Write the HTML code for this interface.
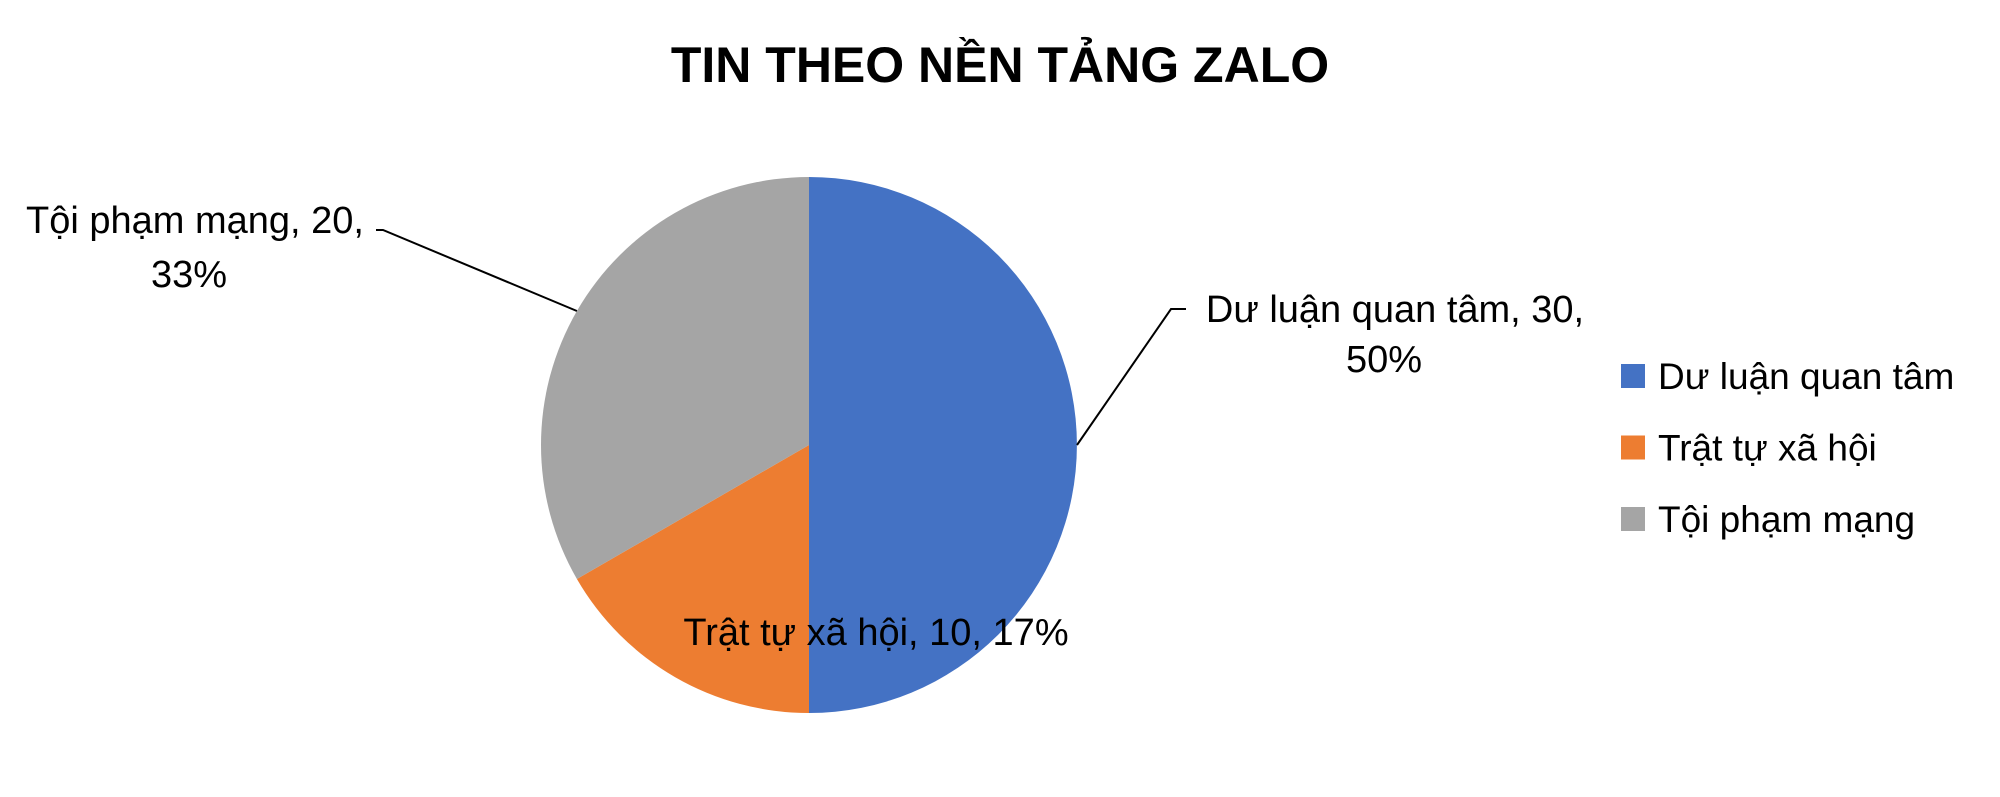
<!DOCTYPE html>
<html><head><meta charset="utf-8"><style>
html,body{margin:0;padding:0;background:#fff;}
svg{display:block;font-family:"Liberation Sans",sans-serif;}
</style></head><body>
<svg id="chart" width="2000" height="797" viewBox="0 0 2000 797">
<text x="1000" y="82" text-anchor="middle" font-size="50" font-weight="bold" fill="#000">TIN THEO NỀN TẢNG ZALO</text>
<g id="slices"></g>
<g id="labels" font-size="38" fill="#000"></g>
<g id="legend" font-size="37" fill="#000"></g>
</svg>
<script>
const categories = ["Dư luận quan tâm", "Trật tự xã hội", "Tội phạm mạng"];
const values = [30, 10, 20];
const colors = ["#4472C4", "#ED7D31", "#A5A5A5"];
const ns = "http://www.w3.org/2000/svg";
const cx = 809, cy = 445, r = 268;
const total = values.reduce((a,b)=>a+b,0);
const sl = document.getElementById('slices');
let ang = 0;
const mids = [];
values.forEach((v,i)=>{
  const a0 = ang, a1 = ang + v/total*2*Math.PI; ang = a1;
  mids.push((a0+a1)/2);
  const p = (a)=>[cx + r*Math.sin(a), cy - r*Math.cos(a)];
  const [x0,y0]=p(a0),[x1,y1]=p(a1);
  const large = (a1-a0)>Math.PI?1:0;
  const path = document.createElementNS(ns,'path');
  path.setAttribute('d',`M${cx},${cy} L${x0},${y0} A${r},${r} 0 ${large} 1 ${x1},${y1} Z`);
  path.setAttribute('fill',colors[i]);
  
  
  sl.appendChild(path);
});
const lb = document.getElementById('labels');
function txt(parent,x,y,s,anchor){
  const t=document.createElementNS(ns,'text');
  t.setAttribute('x',x);t.setAttribute('y',y);t.setAttribute('text-anchor',anchor||'start');
  t.textContent=s;parent.appendChild(t);return t;
}
function line(pts,name){
  const pl=document.createElementNS(ns,'polyline');
  pl.setAttribute('points',pts.map(p=>p.join(',')).join(' '));
  pl.setAttribute('fill','none');pl.setAttribute('stroke','#000');pl.setAttribute('stroke-width','2');
  
  
  lb.appendChild(pl);
}
const pct = values.map(v=>Math.round(v/total*100)+'%');
let e = (a)=>[cx + r*Math.sin(a), cy - r*Math.cos(a)];
line([[1186,309],[1171,309],e(mids[0])],'leader-line-du-luan');
let t=txt(lb,1395,322,categories[0]+', '+values[0]+',','middle');


t=txt(lb,1384,372,pct[0],'middle');


t=txt(lb,876,645,categories[1]+', '+values[1]+', '+pct[1],'middle');


line([[376,230],[383,230],e(mids[2])],'leader-line-toi-pham');
t=txt(lb,195,233,categories[2]+', '+values[2]+',','middle');


t=txt(lb,189,287,pct[2],'middle');


const lg=document.getElementById('legend');
categories.forEach((c,i)=>{
  const y=376+i*71.5;
  const g=document.createElementNS(ns,'g');
  
  
  const rc=document.createElementNS(ns,'rect');
  rc.setAttribute('x',1621);rc.setAttribute('y',y-12);rc.setAttribute('width',24);rc.setAttribute('height',24);
  rc.setAttribute('fill',colors[i]);
  g.appendChild(rc);
  txt(g,1658,y+13,c);
  lg.appendChild(g);
});
</script>
</body></html>
